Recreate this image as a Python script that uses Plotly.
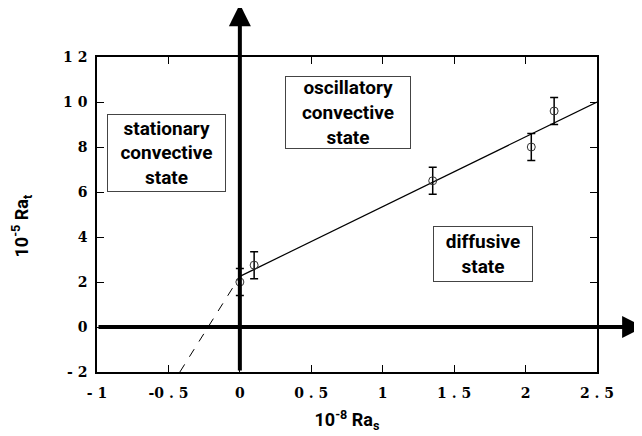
import plotly.graph_objects as go

# ---- data ----
ras = [0.0, 0.1, 1.35, 2.04, 2.2]
rat = [2.0, 2.75, 6.5, 8.0, 9.6]
rat_err = [0.6, 0.6, 0.6, 0.6, 0.6]

fit_x = [0.0, 2.5]
fit_y = [2.25, 10.0]

ext_x = [-0.42, 0.0]
ext_y = [-2.0, 2.25]

x_tickvals = [-1, -0.5, 0, 0.5, 1, 1.5, 2, 2.5]
x_ticktext = ["- 1", "-0 . 5", "0", "0 . 5", "1", "1 . 5", "2", "2 . 5"]
y_tickvals = [-2, 0, 2, 4, 6, 8, 10, 12]
y_ticktext = ["- 2", "0", "2", "4", "6", "8", "1 0", "1 2"]

regions = [
    ("stationary<br>convective<br>state", -0.515, 7.73, 117, 76),
    ("oscillatory<br>convective<br>state", 0.76, 9.53, 124, 71),
    ("diffusive<br>state", 1.70, 3.24, 98, 54),
]

fig = go.Figure()

fig.add_trace(go.Scatter(
    x=ext_x, y=ext_y, mode="lines",
    line=dict(color="black", width=1, dash="dash"),
    hoverinfo="skip", showlegend=False))

fig.add_trace(go.Scatter(
    x=fit_x, y=fit_y, mode="lines",
    line=dict(color="black", width=1.2),
    hoverinfo="skip", showlegend=False))

fig.add_trace(go.Scatter(
    x=ras, y=rat, mode="markers",
    marker=dict(symbol="circle-open", size=8, color="#333",
                line=dict(width=1, color="#333")),
    error_y=dict(type="data", array=rat_err, visible=True,
                 color="black", thickness=1.5, width=4),
    showlegend=False, cliponaxis=False))

titlefont = dict(family="Roboto", size=18, color="black", weight=700)

anns = []
anns.append(dict(x=2.83, y=0, ax=-1, ay=0, xref="x", yref="y",
                 axref="x", ayref="y", showarrow=True, arrowhead=2,
                 arrowsize=1.1, arrowwidth=4, arrowcolor="black", text=""))
anns.append(dict(x=0, y=14.35, ax=0, ay=-2, xref="x", yref="y",
                 axref="x", ayref="y", showarrow=True, arrowhead=2,
                 arrowsize=1.1, arrowwidth=4, arrowcolor="black", text=""))

for txt, xx, yy, w, h in regions:
    anns.append(dict(x=xx, y=yy, xref="x", yref="y", text=txt,
                     showarrow=False, align="center", valign="middle",
                     width=w, height=h,
                     font=dict(family="Roboto", size=19, color="black", weight=700),
                     bgcolor="white", bordercolor="#444", borderwidth=1,
                     borderpad=0))

# y-axis title as rotated annotation
anns.append(dict(x=-0.152, y=0.465, xref="paper", yref="paper",
                 text="10<sup>-5</sup> Ra<sub>t</sub>", textangle=-90,
                 showarrow=False, xanchor="center", yanchor="middle",
                 font=titlefont))

tickfont = dict(family="DejaVu Serif", size=14, color="black", weight=700)

fig.update_layout(
    width=642, height=436,
    margin=dict(l=89, r=53, t=49, b=72),
    paper_bgcolor="white", plot_bgcolor="white",
    annotations=anns,
    xaxis=dict(range=[-1, 2.5], tickvals=x_tickvals, ticktext=x_ticktext,
               ticks="inside", ticklen=7, tickwidth=1.2, tickcolor="black",
               showline=True, linecolor="black", linewidth=1.5, mirror="ticks",
               showgrid=False, zeroline=False, automargin=False,
               tickfont=tickfont, ticklabelstandoff=7,
               title=dict(text="10<sup>-8</sup> Ra<sub>s</sub>", standoff=14,
                          font=titlefont)),
    yaxis=dict(range=[-2, 12], tickvals=y_tickvals, ticktext=y_ticktext,
               ticks="inside", ticklen=7, tickwidth=1.2, tickcolor="black",
               showline=True, linecolor="black", linewidth=1.5, mirror="ticks",
               showgrid=False, zeroline=False, automargin=False,
               tickfont=tickfont, ticklabelstandoff=5),
)

fig.write_html("out.html")
